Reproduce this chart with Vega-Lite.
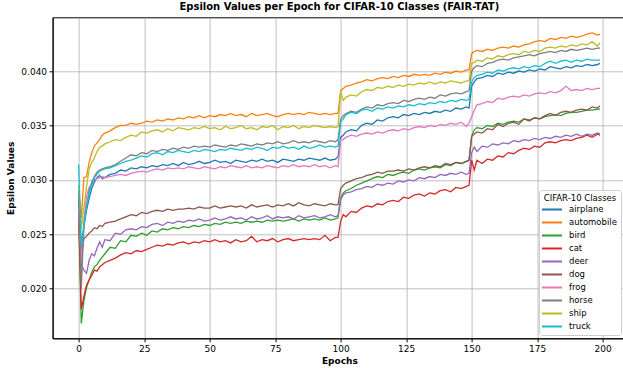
{
"$schema":"https://vega.github.io/schema/vega-lite/v6.json",
"autosize":{"type":"none"},
"padding":{"left":52.6,"top":17.3,"right":0,"bottom":30},
"width":573.5,"height":321,
"background":"white",
"config":{"font":"DejaVu Sans","view":{"stroke":"black","strokeWidth":1},
"axis":{"labelFont":"DejaVu Sans","titleFont":"DejaVu Sans","labelFontSize":9,"titleFontSize":9,"titleFontWeight":"bold","labelColor":"black","titleColor":"black","domainColor":"black","tickColor":"black","gridColor":"#b0b0b0","gridWidth":0.8,"tickSize":3.5,"labelPadding":2.5}},
"title":{"text":"Epsilon Values per Epoch for CIFAR-10 Classes (FAIR-TAT)","fontSize":10,"fontWeight":"bold","font":"DejaVu Sans","color":"black","offset":5,"anchor":"middle"},
"datasets":{
"airplane":[{"e":0,"v":0.0285},{"e":1,"v":0.0235},{"e":2,"v":0.0257},{"e":3,"v":0.0272},{"e":4,"v":0.0283},{"e":5,"v":0.0292},{"e":6,"v":0.0298},{"e":7,"v":0.0302},{"e":8,"v":0.0304},{"e":9,"v":0.0301},{"e":10,"v":0.0302},{"e":12,"v":0.0305},{"e":14,"v":0.0306},{"e":16,"v":0.0309},{"e":18,"v":0.0308},{"e":20,"v":0.0311},{"e":22,"v":0.031},{"e":24,"v":0.0312},{"e":26,"v":0.0311},{"e":28,"v":0.0313},{"e":30,"v":0.0312},{"e":32,"v":0.0314},{"e":34,"v":0.0313},{"e":36,"v":0.0315},{"e":38,"v":0.0313},{"e":40,"v":0.0316},{"e":42,"v":0.0314},{"e":44,"v":0.0315},{"e":46,"v":0.0317},{"e":48,"v":0.0315},{"e":50,"v":0.0316},{"e":52,"v":0.0318},{"e":54,"v":0.0316},{"e":56,"v":0.0317},{"e":58,"v":0.0315},{"e":60,"v":0.0318},{"e":62,"v":0.0317},{"e":64,"v":0.0316},{"e":66,"v":0.0318},{"e":68,"v":0.0317},{"e":70,"v":0.0319},{"e":72,"v":0.0317},{"e":74,"v":0.0318},{"e":76,"v":0.0316},{"e":78,"v":0.0319},{"e":80,"v":0.0318},{"e":82,"v":0.0317},{"e":84,"v":0.0319},{"e":86,"v":0.0318},{"e":88,"v":0.032},{"e":90,"v":0.0319},{"e":92,"v":0.0318},{"e":94,"v":0.032},{"e":96,"v":0.0318},{"e":98,"v":0.0319},{"e":99,"v":0.0321},{"e":100,"v":0.0339},{"e":101,"v":0.0341},{"e":102,"v":0.0344},{"e":104,"v":0.0346},{"e":106,"v":0.0345},{"e":108,"v":0.035},{"e":110,"v":0.0352},{"e":112,"v":0.0351},{"e":114,"v":0.0355},{"e":116,"v":0.0354},{"e":118,"v":0.0357},{"e":120,"v":0.0358},{"e":122,"v":0.0357},{"e":124,"v":0.036},{"e":126,"v":0.0359},{"e":128,"v":0.0361},{"e":130,"v":0.036},{"e":132,"v":0.0362},{"e":134,"v":0.0361},{"e":136,"v":0.0363},{"e":138,"v":0.0362},{"e":140,"v":0.0364},{"e":142,"v":0.0363},{"e":144,"v":0.0366},{"e":146,"v":0.0365},{"e":148,"v":0.0367},{"e":149,"v":0.0366},{"e":150,"v":0.0386},{"e":151,"v":0.039},{"e":152,"v":0.0393},{"e":154,"v":0.0394},{"e":156,"v":0.0396},{"e":158,"v":0.0395},{"e":160,"v":0.0398},{"e":162,"v":0.0397},{"e":164,"v":0.0399},{"e":166,"v":0.0398},{"e":168,"v":0.04},{"e":170,"v":0.0399},{"e":172,"v":0.0401},{"e":174,"v":0.04},{"e":176,"v":0.0402},{"e":178,"v":0.0401},{"e":180,"v":0.0404},{"e":182,"v":0.0403},{"e":184,"v":0.0402},{"e":186,"v":0.0404},{"e":188,"v":0.0403},{"e":190,"v":0.0405},{"e":192,"v":0.0404},{"e":194,"v":0.0406},{"e":196,"v":0.0405},{"e":198,"v":0.0406},{"e":199,"v":0.0407}],
"automobile":[{"e":0,"v":0.029},{"e":1,"v":0.0265},{"e":2,"v":0.0302},{"e":3,"v":0.0303},{"e":4,"v":0.0316},{"e":5,"v":0.0325},{"e":6,"v":0.0331},{"e":7,"v":0.0334},{"e":8,"v":0.0337},{"e":9,"v":0.0341},{"e":10,"v":0.0343},{"e":12,"v":0.0345},{"e":14,"v":0.0348},{"e":16,"v":0.035},{"e":18,"v":0.035},{"e":20,"v":0.0352},{"e":22,"v":0.0351},{"e":24,"v":0.0352},{"e":26,"v":0.0354},{"e":28,"v":0.0353},{"e":30,"v":0.0355},{"e":32,"v":0.0354},{"e":34,"v":0.0356},{"e":36,"v":0.0355},{"e":38,"v":0.0357},{"e":40,"v":0.0356},{"e":42,"v":0.0358},{"e":44,"v":0.0357},{"e":46,"v":0.0359},{"e":48,"v":0.0357},{"e":50,"v":0.0359},{"e":52,"v":0.0358},{"e":54,"v":0.036},{"e":56,"v":0.0359},{"e":58,"v":0.0361},{"e":60,"v":0.0359},{"e":62,"v":0.036},{"e":64,"v":0.0358},{"e":66,"v":0.0361},{"e":68,"v":0.0359},{"e":70,"v":0.036},{"e":72,"v":0.0361},{"e":74,"v":0.0359},{"e":76,"v":0.0358},{"e":78,"v":0.036},{"e":80,"v":0.0361},{"e":82,"v":0.036},{"e":84,"v":0.0361},{"e":86,"v":0.036},{"e":88,"v":0.0362},{"e":90,"v":0.0361},{"e":92,"v":0.036},{"e":94,"v":0.0361},{"e":96,"v":0.036},{"e":98,"v":0.0361},{"e":99,"v":0.0361},{"e":100,"v":0.0382},{"e":101,"v":0.0384},{"e":102,"v":0.0386},{"e":104,"v":0.0387},{"e":106,"v":0.0389},{"e":108,"v":0.039},{"e":110,"v":0.0392},{"e":112,"v":0.0391},{"e":114,"v":0.0393},{"e":116,"v":0.0394},{"e":118,"v":0.0393},{"e":120,"v":0.0395},{"e":122,"v":0.0394},{"e":124,"v":0.0396},{"e":126,"v":0.0395},{"e":128,"v":0.0397},{"e":130,"v":0.0396},{"e":132,"v":0.0397},{"e":134,"v":0.0396},{"e":136,"v":0.0398},{"e":138,"v":0.0397},{"e":140,"v":0.0399},{"e":142,"v":0.0398},{"e":144,"v":0.04},{"e":146,"v":0.0399},{"e":148,"v":0.0401},{"e":149,"v":0.0401},{"e":150,"v":0.0416},{"e":151,"v":0.0418},{"e":152,"v":0.0419},{"e":154,"v":0.0418},{"e":156,"v":0.042},{"e":158,"v":0.0419},{"e":160,"v":0.0421},{"e":162,"v":0.0422},{"e":164,"v":0.0421},{"e":166,"v":0.0423},{"e":168,"v":0.0422},{"e":170,"v":0.0424},{"e":172,"v":0.0425},{"e":174,"v":0.0427},{"e":176,"v":0.0428},{"e":178,"v":0.0427},{"e":180,"v":0.043},{"e":182,"v":0.0429},{"e":184,"v":0.0431},{"e":186,"v":0.043},{"e":188,"v":0.0432},{"e":190,"v":0.0431},{"e":192,"v":0.0432},{"e":194,"v":0.0434},{"e":196,"v":0.0435},{"e":198,"v":0.0433},{"e":199,"v":0.0434}],
"bird":[{"e":0,"v":0.0265},{"e":1,"v":0.0168},{"e":2,"v":0.0189},{"e":3,"v":0.0201},{"e":4,"v":0.0208},{"e":5,"v":0.0215},{"e":6,"v":0.022},{"e":7,"v":0.0222},{"e":8,"v":0.0226},{"e":9,"v":0.0229},{"e":10,"v":0.0232},{"e":12,"v":0.0238},{"e":14,"v":0.0237},{"e":16,"v":0.0244},{"e":18,"v":0.0243},{"e":20,"v":0.0249},{"e":22,"v":0.0248},{"e":24,"v":0.0251},{"e":26,"v":0.0249},{"e":28,"v":0.0253},{"e":30,"v":0.0252},{"e":32,"v":0.0255},{"e":34,"v":0.0254},{"e":36,"v":0.0256},{"e":38,"v":0.0255},{"e":40,"v":0.0257},{"e":42,"v":0.0256},{"e":44,"v":0.0258},{"e":46,"v":0.0257},{"e":48,"v":0.0259},{"e":50,"v":0.0258},{"e":52,"v":0.026},{"e":54,"v":0.0259},{"e":56,"v":0.0261},{"e":58,"v":0.026},{"e":60,"v":0.0261},{"e":62,"v":0.026},{"e":64,"v":0.0262},{"e":66,"v":0.0261},{"e":68,"v":0.0262},{"e":70,"v":0.0261},{"e":72,"v":0.0263},{"e":74,"v":0.0262},{"e":76,"v":0.0263},{"e":78,"v":0.0262},{"e":80,"v":0.0263},{"e":82,"v":0.0264},{"e":84,"v":0.0262},{"e":86,"v":0.0264},{"e":88,"v":0.0263},{"e":90,"v":0.0264},{"e":92,"v":0.0263},{"e":94,"v":0.0265},{"e":96,"v":0.0263},{"e":98,"v":0.0264},{"e":99,"v":0.0265},{"e":100,"v":0.0283},{"e":101,"v":0.0288},{"e":102,"v":0.029},{"e":104,"v":0.0292},{"e":106,"v":0.0295},{"e":108,"v":0.0297},{"e":110,"v":0.0299},{"e":112,"v":0.0301},{"e":114,"v":0.0303},{"e":116,"v":0.0302},{"e":118,"v":0.0305},{"e":120,"v":0.0304},{"e":122,"v":0.0306},{"e":124,"v":0.0307},{"e":126,"v":0.0306},{"e":128,"v":0.0309},{"e":130,"v":0.031},{"e":132,"v":0.0309},{"e":134,"v":0.0311},{"e":136,"v":0.0312},{"e":138,"v":0.0311},{"e":140,"v":0.0314},{"e":142,"v":0.0313},{"e":144,"v":0.0316},{"e":146,"v":0.0315},{"e":148,"v":0.0317},{"e":149,"v":0.0318},{"e":150,"v":0.034},{"e":151,"v":0.0346},{"e":152,"v":0.0348},{"e":154,"v":0.0347},{"e":156,"v":0.035},{"e":158,"v":0.0349},{"e":160,"v":0.0352},{"e":162,"v":0.0351},{"e":164,"v":0.0353},{"e":166,"v":0.0354},{"e":168,"v":0.0353},{"e":170,"v":0.0356},{"e":172,"v":0.0355},{"e":174,"v":0.0357},{"e":176,"v":0.0356},{"e":178,"v":0.0358},{"e":180,"v":0.0359},{"e":182,"v":0.036},{"e":184,"v":0.0359},{"e":186,"v":0.0361},{"e":188,"v":0.0362},{"e":190,"v":0.0362},{"e":192,"v":0.0363},{"e":194,"v":0.0364},{"e":196,"v":0.0364},{"e":198,"v":0.0365},{"e":199,"v":0.0365}],
"cat":[{"e":0,"v":0.027},{"e":1,"v":0.0181},{"e":2,"v":0.0193},{"e":3,"v":0.0203},{"e":4,"v":0.0208},{"e":5,"v":0.0212},{"e":6,"v":0.0217},{"e":7,"v":0.0216},{"e":8,"v":0.022},{"e":9,"v":0.0222},{"e":10,"v":0.0224},{"e":12,"v":0.0226},{"e":14,"v":0.0228},{"e":16,"v":0.0231},{"e":18,"v":0.0233},{"e":20,"v":0.0232},{"e":22,"v":0.0235},{"e":24,"v":0.0234},{"e":26,"v":0.0236},{"e":28,"v":0.0238},{"e":30,"v":0.024},{"e":32,"v":0.0239},{"e":34,"v":0.0241},{"e":36,"v":0.024},{"e":38,"v":0.0242},{"e":40,"v":0.0243},{"e":42,"v":0.0241},{"e":44,"v":0.0243},{"e":46,"v":0.0242},{"e":48,"v":0.0244},{"e":50,"v":0.0243},{"e":52,"v":0.0245},{"e":54,"v":0.0243},{"e":56,"v":0.0244},{"e":58,"v":0.0242},{"e":60,"v":0.0245},{"e":62,"v":0.0243},{"e":64,"v":0.0244},{"e":66,"v":0.0248},{"e":68,"v":0.0243},{"e":70,"v":0.0245},{"e":72,"v":0.0244},{"e":74,"v":0.0246},{"e":76,"v":0.0243},{"e":78,"v":0.0245},{"e":80,"v":0.0246},{"e":82,"v":0.0244},{"e":84,"v":0.0245},{"e":86,"v":0.0246},{"e":88,"v":0.0245},{"e":90,"v":0.0246},{"e":92,"v":0.0245},{"e":94,"v":0.0249},{"e":96,"v":0.0244},{"e":98,"v":0.0247},{"e":99,"v":0.0247},{"e":100,"v":0.0262},{"e":101,"v":0.0268},{"e":102,"v":0.0266},{"e":104,"v":0.0271},{"e":106,"v":0.027},{"e":108,"v":0.0274},{"e":110,"v":0.0276},{"e":112,"v":0.0275},{"e":114,"v":0.0278},{"e":116,"v":0.0277},{"e":118,"v":0.028},{"e":120,"v":0.0281},{"e":122,"v":0.028},{"e":124,"v":0.0284},{"e":126,"v":0.0283},{"e":128,"v":0.0286},{"e":130,"v":0.0287},{"e":132,"v":0.0285},{"e":134,"v":0.0288},{"e":136,"v":0.0287},{"e":138,"v":0.029},{"e":140,"v":0.0291},{"e":142,"v":0.0289},{"e":144,"v":0.0293},{"e":146,"v":0.0292},{"e":148,"v":0.0294},{"e":149,"v":0.0295},{"e":150,"v":0.0318},{"e":151,"v":0.0309},{"e":152,"v":0.0318},{"e":154,"v":0.0315},{"e":156,"v":0.0319},{"e":158,"v":0.0318},{"e":160,"v":0.0322},{"e":162,"v":0.0321},{"e":164,"v":0.0325},{"e":166,"v":0.0324},{"e":168,"v":0.0327},{"e":170,"v":0.0329},{"e":172,"v":0.0328},{"e":174,"v":0.0331},{"e":176,"v":0.033},{"e":178,"v":0.0334},{"e":180,"v":0.0335},{"e":182,"v":0.0334},{"e":184,"v":0.0336},{"e":186,"v":0.0337},{"e":188,"v":0.0336},{"e":190,"v":0.0338},{"e":192,"v":0.0339},{"e":194,"v":0.0341},{"e":196,"v":0.0339},{"e":198,"v":0.0342},{"e":199,"v":0.0341}],
"deer":[{"e":0,"v":0.0268},{"e":1,"v":0.0222},{"e":2,"v":0.0217},{"e":3,"v":0.0214},{"e":4,"v":0.0226},{"e":5,"v":0.0232},{"e":6,"v":0.023},{"e":7,"v":0.0237},{"e":8,"v":0.0243},{"e":9,"v":0.0238},{"e":10,"v":0.0245},{"e":12,"v":0.0244},{"e":14,"v":0.0251},{"e":16,"v":0.025},{"e":18,"v":0.0254},{"e":20,"v":0.0255},{"e":22,"v":0.0254},{"e":24,"v":0.0257},{"e":26,"v":0.0256},{"e":28,"v":0.0259},{"e":30,"v":0.026},{"e":32,"v":0.0258},{"e":34,"v":0.0261},{"e":36,"v":0.026},{"e":38,"v":0.0262},{"e":40,"v":0.0261},{"e":42,"v":0.0263},{"e":44,"v":0.0262},{"e":46,"v":0.0264},{"e":48,"v":0.0262},{"e":50,"v":0.0263},{"e":52,"v":0.0265},{"e":54,"v":0.0263},{"e":56,"v":0.0264},{"e":58,"v":0.0266},{"e":60,"v":0.0264},{"e":62,"v":0.0265},{"e":64,"v":0.0263},{"e":66,"v":0.0266},{"e":68,"v":0.0264},{"e":70,"v":0.0265},{"e":72,"v":0.0267},{"e":74,"v":0.0264},{"e":76,"v":0.0266},{"e":78,"v":0.0265},{"e":80,"v":0.0266},{"e":82,"v":0.0264},{"e":84,"v":0.0267},{"e":86,"v":0.0265},{"e":88,"v":0.0266},{"e":90,"v":0.0267},{"e":92,"v":0.0265},{"e":94,"v":0.0266},{"e":96,"v":0.0268},{"e":98,"v":0.0266},{"e":99,"v":0.0267},{"e":100,"v":0.0282},{"e":101,"v":0.0286},{"e":102,"v":0.0288},{"e":104,"v":0.0289},{"e":106,"v":0.0291},{"e":108,"v":0.0292},{"e":110,"v":0.0294},{"e":112,"v":0.0293},{"e":114,"v":0.0296},{"e":116,"v":0.0295},{"e":118,"v":0.0297},{"e":120,"v":0.0296},{"e":122,"v":0.0299},{"e":124,"v":0.0298},{"e":126,"v":0.03},{"e":128,"v":0.0299},{"e":130,"v":0.0302},{"e":132,"v":0.0301},{"e":134,"v":0.0303},{"e":136,"v":0.0302},{"e":138,"v":0.0305},{"e":140,"v":0.0304},{"e":142,"v":0.0306},{"e":144,"v":0.0305},{"e":146,"v":0.0307},{"e":148,"v":0.0305},{"e":149,"v":0.0306},{"e":150,"v":0.0325},{"e":151,"v":0.033},{"e":152,"v":0.0326},{"e":154,"v":0.0331},{"e":156,"v":0.033},{"e":158,"v":0.0333},{"e":160,"v":0.0332},{"e":162,"v":0.0334},{"e":164,"v":0.0333},{"e":166,"v":0.0336},{"e":168,"v":0.0335},{"e":170,"v":0.0337},{"e":172,"v":0.0336},{"e":174,"v":0.0338},{"e":176,"v":0.0337},{"e":178,"v":0.0339},{"e":180,"v":0.0338},{"e":182,"v":0.034},{"e":184,"v":0.0339},{"e":186,"v":0.0341},{"e":188,"v":0.034},{"e":190,"v":0.0342},{"e":192,"v":0.034},{"e":194,"v":0.0342},{"e":196,"v":0.0341},{"e":198,"v":0.0343},{"e":199,"v":0.0342}],
"dog":[{"e":0,"v":0.028},{"e":1,"v":0.0228},{"e":2,"v":0.0246},{"e":3,"v":0.0248},{"e":4,"v":0.0251},{"e":5,"v":0.0253},{"e":6,"v":0.0256},{"e":7,"v":0.0255},{"e":8,"v":0.0258},{"e":9,"v":0.0257},{"e":10,"v":0.026},{"e":12,"v":0.0261},{"e":14,"v":0.0262},{"e":16,"v":0.0264},{"e":18,"v":0.0266},{"e":20,"v":0.0268},{"e":22,"v":0.0267},{"e":24,"v":0.027},{"e":26,"v":0.0269},{"e":28,"v":0.0271},{"e":30,"v":0.0272},{"e":32,"v":0.0271},{"e":34,"v":0.0273},{"e":36,"v":0.0272},{"e":38,"v":0.0273},{"e":40,"v":0.0273},{"e":42,"v":0.0274},{"e":44,"v":0.0273},{"e":46,"v":0.0275},{"e":48,"v":0.0274},{"e":50,"v":0.0274},{"e":52,"v":0.0276},{"e":54,"v":0.0274},{"e":56,"v":0.0275},{"e":58,"v":0.0276},{"e":60,"v":0.0275},{"e":62,"v":0.0276},{"e":64,"v":0.0274},{"e":66,"v":0.0277},{"e":68,"v":0.0275},{"e":70,"v":0.0276},{"e":72,"v":0.0277},{"e":74,"v":0.0275},{"e":76,"v":0.0277},{"e":78,"v":0.0276},{"e":80,"v":0.0278},{"e":82,"v":0.0276},{"e":84,"v":0.0279},{"e":86,"v":0.0277},{"e":88,"v":0.0276},{"e":90,"v":0.0278},{"e":92,"v":0.0277},{"e":94,"v":0.0276},{"e":96,"v":0.0278},{"e":98,"v":0.0277},{"e":99,"v":0.0277},{"e":100,"v":0.0292},{"e":101,"v":0.0295},{"e":102,"v":0.0297},{"e":104,"v":0.0299},{"e":106,"v":0.0301},{"e":108,"v":0.0302},{"e":110,"v":0.0304},{"e":112,"v":0.0305},{"e":114,"v":0.0307},{"e":116,"v":0.0306},{"e":118,"v":0.0308},{"e":120,"v":0.0308},{"e":122,"v":0.0309},{"e":124,"v":0.0308},{"e":126,"v":0.031},{"e":128,"v":0.0309},{"e":130,"v":0.0311},{"e":132,"v":0.0312},{"e":134,"v":0.0311},{"e":136,"v":0.0313},{"e":138,"v":0.0312},{"e":140,"v":0.0315},{"e":142,"v":0.0314},{"e":144,"v":0.0316},{"e":146,"v":0.0315},{"e":148,"v":0.0317},{"e":149,"v":0.0318},{"e":150,"v":0.034},{"e":151,"v":0.0342},{"e":152,"v":0.0344},{"e":154,"v":0.0343},{"e":156,"v":0.0347},{"e":158,"v":0.0346},{"e":160,"v":0.0351},{"e":162,"v":0.0349},{"e":164,"v":0.0352},{"e":166,"v":0.0353},{"e":168,"v":0.0351},{"e":170,"v":0.0356},{"e":172,"v":0.0354},{"e":174,"v":0.0357},{"e":176,"v":0.0356},{"e":178,"v":0.0359},{"e":180,"v":0.0361},{"e":182,"v":0.0359},{"e":184,"v":0.0362},{"e":186,"v":0.0363},{"e":188,"v":0.0362},{"e":190,"v":0.0364},{"e":192,"v":0.0365},{"e":194,"v":0.0364},{"e":196,"v":0.0367},{"e":198,"v":0.0366},{"e":199,"v":0.0368}],
"frog":[{"e":0,"v":0.0275},{"e":1,"v":0.0225},{"e":2,"v":0.0262},{"e":3,"v":0.0285},{"e":4,"v":0.0293},{"e":5,"v":0.0296},{"e":6,"v":0.03},{"e":7,"v":0.0301},{"e":8,"v":0.0302},{"e":9,"v":0.0303},{"e":10,"v":0.0302},{"e":12,"v":0.0303},{"e":14,"v":0.0304},{"e":16,"v":0.0305},{"e":18,"v":0.0304},{"e":20,"v":0.0306},{"e":22,"v":0.0307},{"e":24,"v":0.0308},{"e":26,"v":0.0307},{"e":28,"v":0.0309},{"e":30,"v":0.031},{"e":32,"v":0.0309},{"e":34,"v":0.0311},{"e":36,"v":0.031},{"e":38,"v":0.0311},{"e":40,"v":0.031},{"e":42,"v":0.0312},{"e":44,"v":0.0311},{"e":46,"v":0.031},{"e":48,"v":0.0312},{"e":50,"v":0.0311},{"e":52,"v":0.031},{"e":54,"v":0.0312},{"e":56,"v":0.0311},{"e":58,"v":0.0313},{"e":60,"v":0.0312},{"e":62,"v":0.0311},{"e":64,"v":0.0313},{"e":66,"v":0.0311},{"e":68,"v":0.0312},{"e":70,"v":0.0311},{"e":72,"v":0.0313},{"e":74,"v":0.0312},{"e":76,"v":0.0311},{"e":78,"v":0.0313},{"e":80,"v":0.0312},{"e":82,"v":0.0314},{"e":84,"v":0.0312},{"e":86,"v":0.0313},{"e":88,"v":0.0312},{"e":90,"v":0.0314},{"e":92,"v":0.0312},{"e":94,"v":0.0313},{"e":96,"v":0.0311},{"e":98,"v":0.0313},{"e":99,"v":0.0312},{"e":100,"v":0.0337},{"e":101,"v":0.0337},{"e":102,"v":0.0339},{"e":104,"v":0.0341},{"e":106,"v":0.034},{"e":108,"v":0.0342},{"e":110,"v":0.0343},{"e":112,"v":0.0342},{"e":114,"v":0.0344},{"e":116,"v":0.0343},{"e":118,"v":0.0345},{"e":120,"v":0.0346},{"e":122,"v":0.0345},{"e":124,"v":0.0347},{"e":126,"v":0.0346},{"e":128,"v":0.0348},{"e":130,"v":0.0349},{"e":132,"v":0.0348},{"e":134,"v":0.035},{"e":136,"v":0.0349},{"e":138,"v":0.0351},{"e":140,"v":0.035},{"e":142,"v":0.0352},{"e":144,"v":0.0351},{"e":146,"v":0.0353},{"e":148,"v":0.0349},{"e":149,"v":0.0352},{"e":150,"v":0.0358},{"e":151,"v":0.0364},{"e":152,"v":0.0369},{"e":154,"v":0.037},{"e":156,"v":0.0372},{"e":158,"v":0.0371},{"e":160,"v":0.0375},{"e":162,"v":0.0374},{"e":164,"v":0.0376},{"e":166,"v":0.0377},{"e":168,"v":0.0376},{"e":170,"v":0.0378},{"e":172,"v":0.0377},{"e":174,"v":0.0379},{"e":176,"v":0.038},{"e":178,"v":0.0379},{"e":180,"v":0.0381},{"e":182,"v":0.038},{"e":184,"v":0.0382},{"e":186,"v":0.0386},{"e":188,"v":0.0382},{"e":190,"v":0.0383},{"e":192,"v":0.0382},{"e":194,"v":0.0384},{"e":196,"v":0.0383},{"e":198,"v":0.0384},{"e":199,"v":0.0384}],
"horse":[{"e":0,"v":0.029},{"e":1,"v":0.02},{"e":2,"v":0.0258},{"e":3,"v":0.0275},{"e":4,"v":0.029},{"e":5,"v":0.0298},{"e":6,"v":0.0303},{"e":7,"v":0.0307},{"e":8,"v":0.0309},{"e":9,"v":0.031},{"e":10,"v":0.0311},{"e":12,"v":0.0312},{"e":14,"v":0.0314},{"e":16,"v":0.0317},{"e":18,"v":0.032},{"e":20,"v":0.0323},{"e":22,"v":0.0322},{"e":24,"v":0.0325},{"e":26,"v":0.0324},{"e":28,"v":0.0327},{"e":30,"v":0.0326},{"e":32,"v":0.0328},{"e":34,"v":0.0327},{"e":36,"v":0.0329},{"e":38,"v":0.0328},{"e":40,"v":0.033},{"e":42,"v":0.0329},{"e":44,"v":0.0331},{"e":46,"v":0.033},{"e":48,"v":0.0331},{"e":50,"v":0.033},{"e":52,"v":0.0332},{"e":54,"v":0.0331},{"e":56,"v":0.033},{"e":58,"v":0.0332},{"e":60,"v":0.0331},{"e":62,"v":0.0333},{"e":64,"v":0.0332},{"e":66,"v":0.0331},{"e":68,"v":0.0333},{"e":70,"v":0.0332},{"e":72,"v":0.0334},{"e":74,"v":0.0333},{"e":76,"v":0.0335},{"e":78,"v":0.0333},{"e":80,"v":0.0334},{"e":82,"v":0.0336},{"e":84,"v":0.0334},{"e":86,"v":0.0335},{"e":88,"v":0.0334},{"e":90,"v":0.0336},{"e":92,"v":0.0335},{"e":94,"v":0.0334},{"e":96,"v":0.0336},{"e":98,"v":0.0335},{"e":99,"v":0.0337},{"e":100,"v":0.0356},{"e":101,"v":0.0359},{"e":102,"v":0.0361},{"e":104,"v":0.0363},{"e":106,"v":0.0362},{"e":108,"v":0.0365},{"e":110,"v":0.0367},{"e":112,"v":0.0366},{"e":114,"v":0.0369},{"e":116,"v":0.0368},{"e":118,"v":0.037},{"e":120,"v":0.0371},{"e":122,"v":0.037},{"e":124,"v":0.0373},{"e":126,"v":0.0372},{"e":128,"v":0.0374},{"e":130,"v":0.0375},{"e":132,"v":0.0374},{"e":134,"v":0.0376},{"e":136,"v":0.0375},{"e":138,"v":0.0378},{"e":140,"v":0.0377},{"e":142,"v":0.0379},{"e":144,"v":0.038},{"e":146,"v":0.0379},{"e":148,"v":0.0381},{"e":149,"v":0.0382},{"e":150,"v":0.04},{"e":151,"v":0.0403},{"e":152,"v":0.0405},{"e":154,"v":0.0404},{"e":156,"v":0.0407},{"e":158,"v":0.0408},{"e":160,"v":0.041},{"e":162,"v":0.0411},{"e":164,"v":0.041},{"e":166,"v":0.0412},{"e":168,"v":0.0413},{"e":170,"v":0.0414},{"e":172,"v":0.0415},{"e":174,"v":0.0414},{"e":176,"v":0.0416},{"e":178,"v":0.0417},{"e":180,"v":0.0418},{"e":182,"v":0.0417},{"e":184,"v":0.0419},{"e":186,"v":0.0418},{"e":188,"v":0.042},{"e":190,"v":0.0419},{"e":192,"v":0.042},{"e":194,"v":0.0421},{"e":196,"v":0.042},{"e":198,"v":0.0421},{"e":199,"v":0.0421}],
"ship":[{"e":0,"v":0.0295},{"e":1,"v":0.0255},{"e":2,"v":0.0275},{"e":3,"v":0.0294},{"e":4,"v":0.031},{"e":5,"v":0.0316},{"e":6,"v":0.032},{"e":7,"v":0.0326},{"e":8,"v":0.033},{"e":9,"v":0.0331},{"e":10,"v":0.0333},{"e":12,"v":0.0335},{"e":14,"v":0.0337},{"e":16,"v":0.0336},{"e":18,"v":0.0339},{"e":20,"v":0.0341},{"e":22,"v":0.034},{"e":24,"v":0.0344},{"e":26,"v":0.0343},{"e":28,"v":0.0345},{"e":30,"v":0.0346},{"e":32,"v":0.0344},{"e":34,"v":0.0347},{"e":36,"v":0.0345},{"e":38,"v":0.0348},{"e":40,"v":0.0347},{"e":42,"v":0.0346},{"e":44,"v":0.0348},{"e":46,"v":0.0347},{"e":48,"v":0.0349},{"e":50,"v":0.0347},{"e":52,"v":0.0348},{"e":54,"v":0.0346},{"e":56,"v":0.0349},{"e":58,"v":0.0347},{"e":60,"v":0.0348},{"e":62,"v":0.035},{"e":64,"v":0.0347},{"e":66,"v":0.0348},{"e":68,"v":0.0346},{"e":70,"v":0.0349},{"e":72,"v":0.0348},{"e":74,"v":0.035},{"e":76,"v":0.0346},{"e":78,"v":0.0349},{"e":80,"v":0.0348},{"e":82,"v":0.035},{"e":84,"v":0.0347},{"e":86,"v":0.0349},{"e":88,"v":0.0348},{"e":90,"v":0.035},{"e":92,"v":0.0349},{"e":94,"v":0.0348},{"e":96,"v":0.0349},{"e":98,"v":0.0348},{"e":99,"v":0.0349},{"e":100,"v":0.0381},{"e":101,"v":0.0373},{"e":102,"v":0.0376},{"e":104,"v":0.0378},{"e":106,"v":0.0377},{"e":108,"v":0.0381},{"e":110,"v":0.0383},{"e":112,"v":0.0382},{"e":114,"v":0.0385},{"e":116,"v":0.0384},{"e":118,"v":0.0386},{"e":120,"v":0.0385},{"e":122,"v":0.0387},{"e":124,"v":0.0386},{"e":126,"v":0.0388},{"e":128,"v":0.0387},{"e":130,"v":0.0389},{"e":132,"v":0.0388},{"e":134,"v":0.039},{"e":136,"v":0.0388},{"e":138,"v":0.039},{"e":140,"v":0.0389},{"e":142,"v":0.0391},{"e":144,"v":0.039},{"e":146,"v":0.0389},{"e":148,"v":0.0391},{"e":149,"v":0.0391},{"e":150,"v":0.0407},{"e":151,"v":0.0408},{"e":152,"v":0.041},{"e":154,"v":0.0409},{"e":156,"v":0.0412},{"e":158,"v":0.0411},{"e":160,"v":0.0414},{"e":162,"v":0.0413},{"e":164,"v":0.0415},{"e":166,"v":0.0416},{"e":168,"v":0.0415},{"e":170,"v":0.0418},{"e":172,"v":0.0417},{"e":174,"v":0.0419},{"e":176,"v":0.0418},{"e":178,"v":0.0421},{"e":180,"v":0.0422},{"e":182,"v":0.0421},{"e":184,"v":0.0423},{"e":186,"v":0.0422},{"e":188,"v":0.0424},{"e":190,"v":0.0423},{"e":192,"v":0.0425},{"e":194,"v":0.0424},{"e":196,"v":0.0427},{"e":198,"v":0.0423},{"e":199,"v":0.0426}],
"truck":[{"e":0,"v":0.0314},{"e":1,"v":0.024},{"e":2,"v":0.0258},{"e":3,"v":0.0275},{"e":4,"v":0.0288},{"e":5,"v":0.0296},{"e":6,"v":0.0302},{"e":7,"v":0.0305},{"e":8,"v":0.0308},{"e":9,"v":0.0309},{"e":10,"v":0.031},{"e":12,"v":0.0311},{"e":14,"v":0.0313},{"e":16,"v":0.0315},{"e":18,"v":0.0317},{"e":20,"v":0.0318},{"e":22,"v":0.032},{"e":24,"v":0.0322},{"e":26,"v":0.0321},{"e":28,"v":0.0324},{"e":30,"v":0.0325},{"e":32,"v":0.0323},{"e":34,"v":0.0326},{"e":36,"v":0.0325},{"e":38,"v":0.0327},{"e":40,"v":0.0326},{"e":42,"v":0.0325},{"e":44,"v":0.0327},{"e":46,"v":0.0326},{"e":48,"v":0.0328},{"e":50,"v":0.0327},{"e":52,"v":0.0326},{"e":54,"v":0.0328},{"e":56,"v":0.0327},{"e":58,"v":0.0329},{"e":60,"v":0.0328},{"e":62,"v":0.0327},{"e":64,"v":0.0329},{"e":66,"v":0.0328},{"e":68,"v":0.033},{"e":70,"v":0.0329},{"e":72,"v":0.0327},{"e":74,"v":0.033},{"e":76,"v":0.0329},{"e":78,"v":0.0331},{"e":80,"v":0.0329},{"e":82,"v":0.033},{"e":84,"v":0.0328},{"e":86,"v":0.0331},{"e":88,"v":0.0329},{"e":90,"v":0.033},{"e":92,"v":0.0332},{"e":94,"v":0.033},{"e":96,"v":0.0331},{"e":98,"v":0.033},{"e":99,"v":0.0331},{"e":100,"v":0.0353},{"e":101,"v":0.0356},{"e":102,"v":0.036},{"e":104,"v":0.0362},{"e":106,"v":0.0361},{"e":108,"v":0.0364},{"e":110,"v":0.0365},{"e":112,"v":0.0363},{"e":114,"v":0.0366},{"e":116,"v":0.0365},{"e":118,"v":0.0367},{"e":120,"v":0.0366},{"e":122,"v":0.0368},{"e":124,"v":0.0367},{"e":126,"v":0.0369},{"e":128,"v":0.0368},{"e":130,"v":0.037},{"e":132,"v":0.0369},{"e":134,"v":0.0371},{"e":136,"v":0.037},{"e":138,"v":0.0372},{"e":140,"v":0.0371},{"e":142,"v":0.0373},{"e":144,"v":0.0372},{"e":146,"v":0.0374},{"e":148,"v":0.0373},{"e":149,"v":0.0374},{"e":150,"v":0.039},{"e":151,"v":0.0394},{"e":152,"v":0.0396},{"e":154,"v":0.0397},{"e":156,"v":0.0399},{"e":158,"v":0.0398},{"e":160,"v":0.0401},{"e":162,"v":0.04},{"e":164,"v":0.0402},{"e":166,"v":0.0403},{"e":168,"v":0.0402},{"e":170,"v":0.0404},{"e":172,"v":0.0403},{"e":174,"v":0.0405},{"e":176,"v":0.0404},{"e":178,"v":0.0407},{"e":180,"v":0.0409},{"e":182,"v":0.0407},{"e":184,"v":0.0409},{"e":186,"v":0.041},{"e":188,"v":0.0408},{"e":190,"v":0.041},{"e":192,"v":0.0409},{"e":194,"v":0.0411},{"e":196,"v":0.041},{"e":198,"v":0.041},{"e":199,"v":0.041}]
},
"encoding":{
"x":{"field":"e","type":"quantitative","title":"Epochs","scale":{"domain":[-9.95,208.95],"nice":false,"zero":false},"axis":{"values":[0,25,50,75,100,125,150,175,200],"titlePadding":3}},
"y":{"field":"v","type":"quantitative","title":"Epsilon Values","scale":{"domain":[0.01543,0.04494],"nice":false,"zero":false},"axis":{"values":[0.02,0.025,0.03,0.035,0.04],"format":".3f","titlePadding":5}}
},
"layer":[
{"data":{"name":"airplane"},"mark":{"type":"line","strokeWidth":1.3},"encoding":{"color":{"datum":"airplane","type":"nominal","scale":{"domain":["airplane","automobile","bird","cat","deer","dog","frog","horse","ship","truck"],"range":["#1f77b4","#ff7f0e","#2ca02c","#d62728","#9467bd","#8c564b","#e377c2","#7f7f7f","#bcbd22","#17becf"]},"legend":{"title":"CIFAR-10 Classes","orient":"none","legendX":486.4,"legendY":172.7,"titleFontWeight":"normal","titleFontSize":8.5,"titleFont":"DejaVu Sans","titleColor":"black","titleAnchor":"middle","titlePadding":1,"labelFontSize":8.5,"labelFont":"DejaVu Sans","labelColor":"black","labelOffset":14,"symbolType":"M-1.4,0H2.6","symbolStrokeWidth":2,"symbolSize":100,"fillColor":"white","strokeColor":"#cccccc","padding":4,"cornerRadius":3,"rowPadding":2}}}},
{"data":{"name":"automobile"},"mark":{"type":"line","strokeWidth":1.3},"encoding":{"color":{"datum":"automobile","type":"nominal"}}},
{"data":{"name":"bird"},"mark":{"type":"line","strokeWidth":1.3},"encoding":{"color":{"datum":"bird","type":"nominal"}}},
{"data":{"name":"cat"},"mark":{"type":"line","strokeWidth":1.3},"encoding":{"color":{"datum":"cat","type":"nominal"}}},
{"data":{"name":"deer"},"mark":{"type":"line","strokeWidth":1.3},"encoding":{"color":{"datum":"deer","type":"nominal"}}},
{"data":{"name":"dog"},"mark":{"type":"line","strokeWidth":1.3},"encoding":{"color":{"datum":"dog","type":"nominal"}}},
{"data":{"name":"frog"},"mark":{"type":"line","strokeWidth":1.3},"encoding":{"color":{"datum":"frog","type":"nominal"}}},
{"data":{"name":"horse"},"mark":{"type":"line","strokeWidth":1.3},"encoding":{"color":{"datum":"horse","type":"nominal"}}},
{"data":{"name":"ship"},"mark":{"type":"line","strokeWidth":1.3},"encoding":{"color":{"datum":"ship","type":"nominal"}}},
{"data":{"name":"truck"},"mark":{"type":"line","strokeWidth":1.3},"encoding":{"color":{"datum":"truck","type":"nominal"}}}
]
}
